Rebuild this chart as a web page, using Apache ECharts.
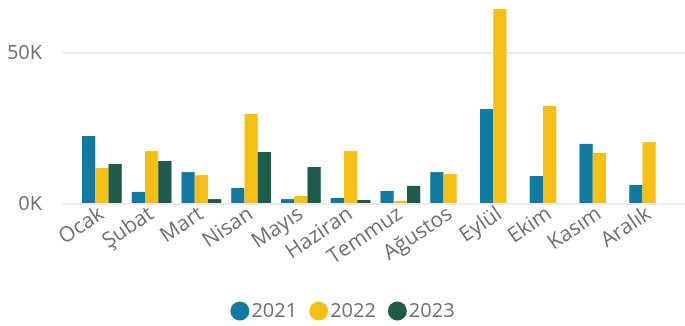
<!DOCTYPE html>
<html>
<head>
<meta charset="utf-8">
<script src="https://cdn.jsdelivr.net/npm/echarts@6/dist/echarts.min.js"></script>
<style>
  html, body { margin: 0; padding: 0; background: #fff; }
  #chart { width: 685px; height: 326px; }
</style>
</head>
<body>
<div id="chart"></div>
<script>
// Monthly totals per year
const months = ['Ocak', 'Şubat', 'Mart', 'Nisan', 'Mayıs', 'Haziran', 'Temmuz', 'Ağustos', 'Eylül', 'Ekim', 'Kasım', 'Aralık'];
const years = ['2021', '2022', '2023'];
const values2021 = [22300, 3700, 10300, 5000, 1300, 1700, 4000, 10300, 31300, 9000, 19700, 6000];
const values2022 = [11700, 17300, 9300, 29700, 2300, 17300, 700, 9700, 64700, 32300, 16700, 20300];
const values2023 = [13000, 14000, 1300, 17000, 12000, 1000, 5700, null, null, null, null, null];
const yTicks = [0, 50000];

const colors = ['#127AA0', '#F5BF16', '#1E5B4C'];
const font = '"Open Sans", "Noto Sans", sans-serif';
const textGray = '#707070';

const chart = echarts.init(document.getElementById('chart'), null, { renderer: 'canvas' });

chart.setOption({
  animation: false,
  color: colors,
  textStyle: { fontFamily: font },
  legend: {
    data: years,
    left: 'center',
    top: 296,
    icon: 'circle',
    itemWidth: 19,
    itemHeight: 19,
    itemGap: 12,
    textStyle: { fontFamily: font, fontSize: 20, color: textGray, padding: [0, 0, 0, -3] }
  },
  grid: [
    // gridlines and value labels
    { left: 62, right: 0, top: 53, bottom: 122, containLabel: false },
    // bars
    { left: 77, right: 11, top: 5, bottom: 123, containLabel: false }
  ],
  xAxis: [
    { type: 'category', gridIndex: 0, data: months, show: false },
    {
      type: 'category',
      gridIndex: 1,
      data: months,
      axisLine: { show: false },
      axisTick: { show: false },
      axisLabel: {
        rotate: 34,
        margin: 9,
        interval: 0,
        fontFamily: font,
        fontSize: 21,
        color: textGray
      }
    }
  ],
  yAxis: [
    {
      type: 'value',
      gridIndex: 0,
      min: yTicks[0],
      max: yTicks[yTicks.length - 1],
      interval: yTicks[1] - yTicks[0],
      axisLine: { show: false },
      axisTick: { show: false },
      splitLine: { lineStyle: { color: '#EBEBEB', width: 2 } },
      axisLabel: {
        margin: 20,
        fontFamily: font,
        fontSize: 20,
        color: textGray,
        formatter: v => (v / 1000) + 'K'
      }
    },
    {
      type: 'value',
      gridIndex: 1,
      min: 0,
      max: 66000,
      show: false,
      splitLine: { show: false }
    }
  ],
  series: [
    { name: years[0], type: 'bar', xAxisIndex: 1, yAxisIndex: 1, data: values2021, barGap: 0, barCategoryGap: '20%' },
    { name: years[1], type: 'bar', xAxisIndex: 1, yAxisIndex: 1, data: values2022, barGap: 0, barCategoryGap: '20%' },
    { name: years[2], type: 'bar', xAxisIndex: 1, yAxisIndex: 1, data: values2023, barGap: 0, barCategoryGap: '20%' }
  ]
});
</script>
</body>
</html>
